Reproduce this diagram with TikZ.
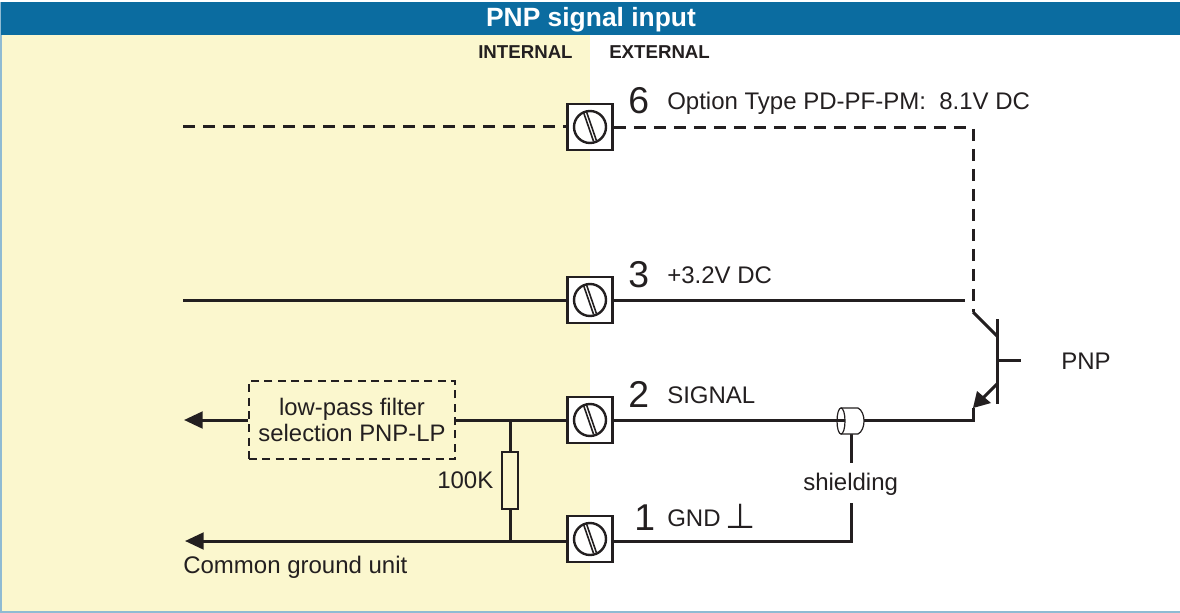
\documentclass[tikz,border=0pt]{standalone}
\usepackage{fontspec}
\setmainfont{Liberation Sans}
\newfontfamily\symfont{DejaVu Sans}
\usetikzlibrary{arrows.meta,calc}
\definecolor{hdr}{HTML}{0B6CA0}
\definecolor{cream}{HTML}{FBF7CE}
\definecolor{edge}{HTML}{8FBBD3}
\definecolor{ink}{HTML}{231F20}
\newcommand{\fs}[1]{\fontsize{#1}{#1}\selectfont}
\tikzset{
  wire/.style={draw=ink,line width=2.25pt},
  dwire/.style={wire,dash pattern=on 9pt off 6pt},
  termbox/.style={draw=ink,line width=2.2pt,fill=white,minimum width=33.5pt,minimum height=34.5pt,inner sep=0pt},
  lbl/.style={text=ink,anchor=base west,inner sep=0pt,font=\fs{18}},
  num/.style={text=ink,anchor=base west,inner sep=0pt,font=\fs{28}},
  head/.style={text=ink,anchor=base west,inner sep=0pt,font=\bfseries\fs{14}},
  arrowtip/.style={-{Triangle[length=14pt,width=12.5pt]}},
}
\newcommand{\screw}[1]{%
  \draw[ink,line width=1.8pt] (#1) circle (12pt);
  \draw[ink,line width=1.2pt] ($(#1)+(-6.4,-14.5)$) -- ($(#1)+(3.6,14.5)$);
  \draw[ink,line width=1.2pt] ($(#1)+(-3.6,-15.5)$) -- ($(#1)+(6.4,13.5)$);
}
\begin{document}
\begin{tikzpicture}[x=0.75pt,y=-0.75pt]
\useasboundingbox (0,0) rectangle (1180,613);
\fill[edge] (0,2) rectangle (1180,613);
\fill[white] (2,35) rectangle (1180,611);
\fill[cream] (2,35) rectangle (590,611);
\fill[hdr] (1,2) rectangle (1180,35);
\node[anchor=base,text=white,inner sep=0pt,font=\bfseries\fs{19.8}] (title) at (591,27) {PNP signal input};
\node[head] (internal) at (478,59) {INTERNAL};
\node[head] (external) at (609,59) {EXTERNAL};

\node[termbox] (t6) at (590,127) {};
\node[termbox] (t3) at (590,300) {};
\node[termbox] (t2) at (590,420) {};
\node[termbox] (t1) at (590,539) {};

\coordinate (l6) at (183,127);
\coordinate (l3) at (183,300);
\coordinate (corner6) at (973,128);
\coordinate (collector) at (973,312);
\coordinate (r3) at (965,300);
\coordinate (barT) at (997,319);
\coordinate (barB) at (997,404);
\coordinate (colJ) at (997,336);
\coordinate (emJ) at (997,384);
\coordinate (emTip) at (973,408);
\coordinate (emOut) at (973,420);
\coordinate (baseJ) at (997,360);
\coordinate (baseOut) at (1021,360);
\coordinate (arrow2) at (184,420);
\coordinate (arrow1) at (185,541);
\coordinate (j2) at (510,420);
\coordinate (j1) at (510,541);
\coordinate (shL) at (845,420);
\coordinate (shR) at (864,420);
\coordinate (shBot) at (851,434);
\coordinate (shMid) at (851,463);
\coordinate (shTop2) at (851,503);
\coordinate (shEnd) at (851,541);

% dashed supply
\draw[dwire] (l6) -- (t6.west);
\draw[dwire] (t6.east |- corner6) -- (corner6) -- (collector);
% solid
\draw[wire] (l3) -- (t3.west);
\draw[wire] (t3.east) -- (r3);

% filter
\node[draw=ink,line width=1.7pt,dash pattern=on 6pt off 4pt,minimum width=154.5pt,minimum height=58.5pt,inner sep=0pt,align=center,text=ink,font=\fs{17.9},fill=cream] (filter) at (352,420) {low-pass filter\\[2pt]selection PNP-LP};
\draw[wire,arrowtip] (filter.west) -- (arrow2);
\draw[wire] (filter.east) -- (t2.west);
\draw[wire] (t2.east) -- (shL);
\draw[wire] (shR) -- (emOut) -- (emTip);

% resistor
\node[draw=ink,line width=1.7pt,fill=cream,minimum width=12.5pt,minimum height=43pt,inner sep=0pt] (res) at (510,480.5) {};
\draw[wire] (j2) -- (res.north);
\draw[wire] (res.south) -- (j1);
\draw[wire,arrowtip] (t1.west |- j1) -- (arrow1);
\node[lbl] (r100k) at (437,488) {100K};

% ground return
\draw[wire] (t1.east |- shEnd) -- (shEnd) -- (shTop2);
\draw[wire] (shBot) -- (shMid);

% shield
\draw[ink,line width=0.9pt,fill=white] (841,408) -- (858,408) .. controls (866,412) and (866,430) .. (858,434) -- (841,434);
\draw[ink,line width=0.9pt] (841,421) ellipse (3pt and 9.8pt);
\draw[wire] (t2.east) -- (shL);

% transistor
\draw[wire] (collector) -- (colJ);
\draw[wire] (barT) -- (barB);
\draw[wire] (baseJ) -- (baseOut);
\draw[wire] (emJ) -- (982,399);
\fill[ink] (973,408) -- (977,391) -- (991,403) -- cycle;

\screw{t6}\screw{t3}\screw{t2}\screw{t1}

\node[num] (n6) at (628,114) {6};
\node[num] (n3) at (628,287) {3};
\node[num] (n2) at (628,407) {2};
\node[num] (n1) at (634,530) {1};
\node[lbl] (o6) at (667,110) {Option Type PD-PF-PM:\ \ 8.1V DC};
\node[lbl] (o3) at (667,283) {+3.2V DC};
\node[lbl] (o2) at (667,403) {SIGNAL};
\node[lbl] (o1) at (667,526) {GND};
\node[text=ink,anchor=base west,inner sep=0pt,font=\symfont\fs{26}] (gndsym) at (725,528) {⊥};
\node[lbl] (pnp) at (1061,369) {PNP};
\node[lbl] (shld) at (803,490) {shielding};
\node[lbl] (cgu) at (183,573) {Common ground unit};
\end{tikzpicture}
\end{document}
